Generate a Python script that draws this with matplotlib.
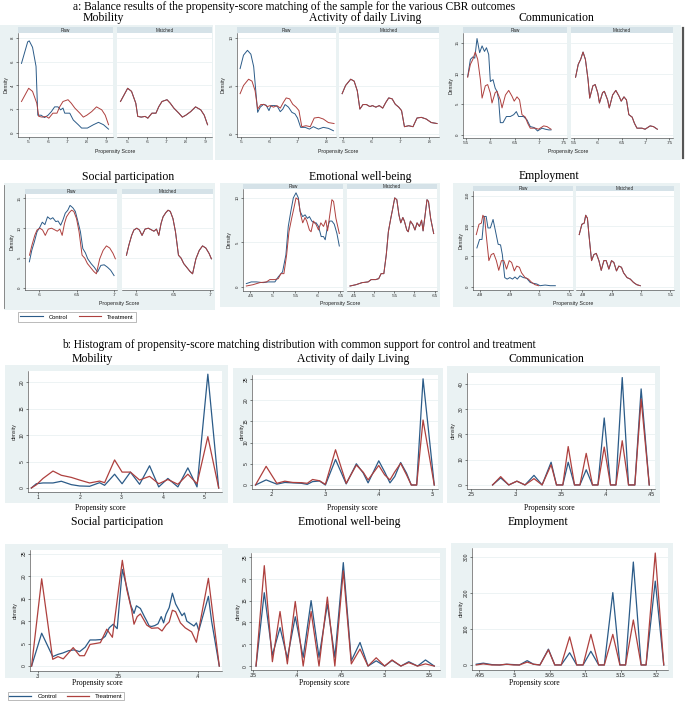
import matplotlib
matplotlib.use("Agg")
import matplotlib.pyplot as plt
from matplotlib.lines import Line2D
from matplotlib.patches import Rectangle
from matplotlib.ticker import FuncFormatter

# ---- a: kernel densities (Raw); Matched shows the treatment curve for both groups
mob_c_x = [0.463, 0.495, 0.503, 0.52, 0.538, 0.547, 0.564, 0.582, 0.6, 0.617, 0.634, 0.651, 0.665, 0.677, 0.686, 0.712, 0.73, 0.756, 0.773, 0.803, 0.834, 0.86, 0.886, 0.912]
mob_c_y = [5.85, 7.66, 7.74, 7.2, 5.6, 1.5, 1.5, 1.3, 1.5, 1.8, 2.2, 2.2, 1.95, 2.1, 1.67, 1.67, 1.1, 0.7, 0.42, 0.42, 0.7, 0.9, 0.7, 0.33]
mob_t_x = [0.463, 0.5, 0.52, 0.542, 0.552, 0.57, 0.59, 0.604, 0.625, 0.646, 0.66, 0.677, 0.703, 0.72, 0.738, 0.764, 0.782, 0.8, 0.825, 0.85, 0.877, 0.895, 0.912]
mob_t_y = [2.65, 3.76, 3.5, 2.5, 1.4, 1.34, 1.4, 1.25, 1.67, 1.67, 2.2, 2.65, 2.8, 2.5, 2.1, 1.67, 1.34, 1.5, 1.8, 2.2, 1.95, 1.5, 0.7]

adl_c_x = [0.496, 0.508, 0.522, 0.534, 0.544, 0.558, 0.567, 0.579, 0.588, 0.598, 0.605, 0.62, 0.628, 0.638, 0.647, 0.655, 0.667, 0.679, 0.69, 0.699, 0.71, 0.726, 0.741, 0.755, 0.773, 0.79, 0.808, 0.826]
adl_c_y = [6.8, 8.2, 8.7, 8.3, 7.0, 2.26, 2.8, 3.1, 3.0, 2.44, 2.96, 2.96, 2.86, 2.33, 2.6, 3.07, 2.8, 2.26, 2.1, 1.67, 0.7, 0.7, 0.52, 0.77, 0.52, 0.7, 0.6, 0.35]
adl_t_x = [0.496, 0.508, 0.526, 0.538, 0.549, 0.558, 0.569, 0.581, 0.593, 0.602, 0.614, 0.626, 0.638, 0.649, 0.659, 0.671, 0.682, 0.694, 0.704, 0.714, 0.729, 0.744, 0.758, 0.773, 0.79, 0.808, 0.828]
adl_t_y = [4.2, 5.05, 5.7, 5.5, 4.5, 2.6, 3.07, 3.07, 2.86, 2.96, 2.8, 2.96, 2.7, 3.3, 3.76, 3.66, 3.1, 2.8, 2.44, 0.77, 0.87, 0.77, 1.67, 1.74, 1.57, 1.2, 1.1]

com_c_x = [0.5534, 0.559, 0.564, 0.568, 0.5726, 0.578, 0.583, 0.588, 0.592, 0.5966, 0.6, 0.6055, 0.61, 0.6137, 0.617, 0.6205, 0.626, 0.633, 0.641, 0.648, 0.6534, 0.658, 0.668, 0.6753, 0.682, 0.69, 0.697, 0.706, 0.713, 0.72, 0.7247]
com_c_y = [9.5, 12.3, 12.7, 12.5, 15.7, 13.4, 14.5, 13.6, 14.2, 13.1, 8.7, 9.0, 7.6, 7.1, 5.7, 2.0, 2.0, 3.0, 3.0, 3.3, 3.8, 3.0, 3.0, 2.45, 1.36, 1.2, 0.65, 1.1, 0.93, 0.82, 0.82]
com_t_x = [0.5534, 0.559, 0.564, 0.569, 0.574, 0.5795, 0.583, 0.5897, 0.5945, 0.6, 0.6034, 0.61, 0.6137, 0.6205, 0.624, 0.631, 0.6377, 0.6445, 0.649, 0.6548, 0.66, 0.665, 0.6719, 0.6767, 0.682, 0.6925, 0.699, 0.7096, 0.7164, 0.7247]
com_t_y = [9.4, 11.5, 12.3, 13.5, 12.3, 9.0, 6.0, 8.0, 8.2, 6.8, 5.2, 6.9, 7.1, 5.7, 4.4, 6.5, 7.25, 6.3, 5.5, 6.2, 5.7, 3.3, 2.9, 1.9, 1.1, 1.1, 0.93, 1.47, 1.36, 0.93]

soc_c_x = [0.5868, 0.59, 0.5934, 0.597, 0.6009, 0.604, 0.6075, 0.611, 0.6149, 0.618, 0.622, 0.625, 0.6285, 0.6316, 0.6346, 0.638, 0.641, 0.6447, 0.648, 0.6513, 0.6548, 0.658, 0.6614, 0.6645, 0.669, 0.6732, 0.6776, 0.682, 0.6864, 0.6908, 0.695, 0.6996]
soc_c_y = [4.4, 6.3, 7.7, 9.4, 10.2, 11.0, 10.6, 11.9, 11.5, 11.75, 11.1, 11.2, 10.5, 11.4, 12.5, 13.0, 13.8, 13.4, 12.8, 11.2, 9.4, 6.6, 5.9, 4.9, 4.1, 3.5, 2.7, 3.8, 3.9, 3.5, 3.0, 2.1]
soc_t_x = [0.587, 0.5903, 0.594, 0.597, 0.6009, 0.6044, 0.608, 0.612, 0.6164, 0.621, 0.624, 0.6274, 0.6305, 0.6336, 0.6363, 0.64, 0.643, 0.646, 0.6496, 0.653, 0.657, 0.6606, 0.6641, 0.668, 0.6725, 0.676, 0.6805, 0.685, 0.6894, 0.6938, 0.6982, 0.7013]
soc_t_y = [5.5, 7.2, 8.8, 9.7, 10.0, 9.7, 8.8, 9.85, 10.0, 9.7, 9.5, 9.85, 8.8, 10.8, 11.9, 12.6, 13.0, 12.8, 11.6, 9.4, 5.5, 5.0, 4.1, 3.5, 2.8, 2.4, 4.9, 6.3, 7.05, 6.7, 5.8, 4.9]

emo_c_x = [0.441, 0.452, 0.4634, 0.4784, 0.4896, 0.5045, 0.512, 0.5216, 0.529, 0.5343, 0.54, 0.5455, 0.5515, 0.5567, 0.5605, 0.5664, 0.5716, 0.5769, 0.5813, 0.5866, 0.5918, 0.5963, 0.6015, 0.6075, 0.6127, 0.6164, 0.6201, 0.6261, 0.6313, 0.6366, 0.6425, 0.6478]
emo_c_y = [0.38, 0.57, 0.57, 0.49, 0.57, 0.57, 1.13, 1.7, 3.6, 6.8, 8.5, 10.0, 10.57, 10.0, 8.5, 7.9, 8.1, 7.7, 7.9, 7.4, 7.2, 7.2, 6.8, 5.66, 5.66, 5.3, 6.4, 7.4, 7.4, 7.05, 6.0, 4.6]
emo_t_x = [0.441, 0.456, 0.4709, 0.4858, 0.4933, 0.5045, 0.512, 0.5179, 0.5246, 0.5306, 0.5358, 0.5418, 0.547, 0.5515, 0.5567, 0.5619, 0.5664, 0.5716, 0.5754, 0.5813, 0.585, 0.5903, 0.5963, 0.6015, 0.6067, 0.6127, 0.6179, 0.6216, 0.6261, 0.6313, 0.635, 0.6403, 0.6478]
emo_t_y = [0.11, 0.26, 0.49, 0.57, 0.83, 0.83, 0.94, 1.5, 1.5, 3.6, 6.2, 7.7, 8.9, 10.0, 9.8, 8.1, 7.2, 7.8, 7.4, 6.4, 6.2, 7.4, 7.0, 6.4, 7.2, 6.8, 7.5, 6.3, 7.9, 9.8, 9.6, 7.7, 6.0]

emp_c_x = [0.4791, 0.48, 0.4808, 0.4815, 0.4822, 0.4828, 0.4836, 0.4845, 0.4853, 0.4862, 0.487, 0.4876, 0.4884, 0.4892, 0.4901, 0.491, 0.4918, 0.4926, 0.4935, 0.4946, 0.4957, 0.4969, 0.498, 0.4991, 0.5002, 0.5019, 0.5036, 0.5053]
emp_c_y = [64, 78, 78, 116, 116, 97, 97, 111, 92, 70, 69, 53, 15, 12.5, 15, 12.5, 16, 12.5, 18, 15, 14, 7, 5.5, 4.4, 1.6, 2.7, 1.6, 1.6]
emp_t_x = [0.4789, 0.4798, 0.4806, 0.4811, 0.4817, 0.4822, 0.4831, 0.4839, 0.4847, 0.4856, 0.4864, 0.4873, 0.4881, 0.489, 0.4899, 0.4907, 0.4916, 0.4924, 0.4933, 0.494, 0.4952, 0.4963, 0.4974, 0.4985, 0.4997]
emp_t_y = [86, 103, 105, 118, 113, 86, 43, 53, 55, 43, 27, 43, 43, 29, 43, 40, 26, 34, 32, 23, 15, 12.5, 7, 3.3, 1.6]

# ---- b: histogram densities
mobb_x = [0.84, 0.96, 1.12, 1.36, 1.56, 1.8, 2.0, 2.24, 2.48, 2.6, 2.84, 3.02, 3.22, 3.44, 3.68, 3.9, 4.12, 4.36, 4.6, 4.82, 5.08, 5.34]
mobb_c = [0, 0.8, 0.95, 0.95, 1.27, 0.63, 0.38, 0.32, 1.0, 0.5, 2.6, 0.8, 3.0, 0.7, 4.2, 0.2, 1.8, 0.2, 3.8, 0.2, 21.5, 0]
mobb_t = [0, 0.6, 1.8, 3.2, 2.4, 2.0, 1.5, 0.95, 1.3, 1.0, 5.3, 3.0, 3.0, 1.5, 2.2, 0.8, 1.6, 0.7, 2.6, 0.8, 9.7, 0]

adlb_x = [0.169, 0.189, 0.209, 0.224, 0.239, 0.255, 0.266, 0.276, 0.289, 0.3, 0.319, 0.339, 0.358, 0.371, 0.38, 0.4, 0.411, 0.421, 0.43, 0.441, 0.452, 0.461, 0.471, 0.483, 0.504]
adlb_c = [0, 1.2, 0.2, 0.6, 0.5, 0.4, 0.15, 0.8, 0.95, 0, 6.0, 0.25, 5.0, 2.8, 0.5, 5.7, 3.1, 0.5, 2.0, 5.3, 2.8, 0, 0, 25, 0]
adlb_t = [0, 4.4, 0.4, 0.9, 0.6, 0.55, 0.4, 1.3, 1.0, 0.15, 8.3, 0.4, 4.7, 3.0, 1.2, 4.6, 2.4, 1.2, 3.1, 5.1, 2.4, 0, 0, 15.3, 0]

comb_x = [0.274, 0.283, 0.292, 0.301, 0.310, 0.320, 0.329, 0.339, 0.345, 0.352, 0.358, 0.365, 0.371, 0.378, 0.385, 0.391, 0.398, 0.405, 0.411, 0.418, 0.425, 0.432, 0.439, 0.448]
comb_c = [0, 2.8, 0, 1.5, 0, 3.8, 0, 9.0, 0, 0, 9.0, 0, 0, 6.0, 0, 0, 26.5, 0, 0, 42.5, 0, 0, 38, 0]
comb_t = [0, 3.3, 0, 1.5, 0, 2.5, 0, 8.0, 0, 0, 15.2, 0, 0, 12.5, 0, 0, 15, 0, 0, 17.5, 0, 0, 34, 0]

socb_c_x = [0.296, 0.3023, 0.3092, 0.3125, 0.3155, 0.319, 0.3225, 0.326, 0.3295, 0.3325, 0.336, 0.3395, 0.342, 0.3445, 0.347, 0.3495, 0.3527, 0.3555, 0.358, 0.36, 0.3615, 0.364, 0.3665, 0.368, 0.3695, 0.371, 0.373, 0.375, 0.377, 0.3785, 0.38, 0.382, 0.384, 0.386, 0.388, 0.39, 0.3915, 0.393, 0.395, 0.3975, 0.399, 0.4005, 0.4065, 0.4085, 0.4133]
socb_c_y = [0, 7.3, 2.1, 2.6, 2.9, 3.4, 3.6, 3.2, 4.2, 5.8, 5.8, 5.9, 6.6, 8.5, 9.3, 8.3, 21.5, 17.5, 13.5, 11.7, 13.4, 12.8, 11.0, 10.0, 8.9, 8.8, 9.0, 9.4, 11.0, 9.6, 11.5, 13.0, 16.2, 13.8, 12.5, 11.2, 11.8, 10.0, 9.5, 8.9, 9.6, 7.9, 15.5, 10.0, 0]
socb_t_x = [0.296, 0.3023, 0.3092, 0.3125, 0.3158, 0.322, 0.326, 0.329, 0.3325, 0.339, 0.343, 0.3465, 0.3527, 0.3555, 0.3585, 0.36, 0.362, 0.364, 0.368, 0.371, 0.375, 0.3775, 0.38, 0.382, 0.384, 0.386, 0.389, 0.392, 0.396, 0.399, 0.4065, 0.4133]
socb_t_y = [0, 19.4, 1.5, 2.1, 1.6, 4.1, 2.3, 2.3, 4.8, 5.2, 8.2, 6.4, 23.5, 17.0, 12.5, 9.3, 11.0, 11.6, 9.1, 8.4, 8.5, 7.8, 9.1, 9.8, 12.4, 12.1, 9.6, 8.5, 7.6, 5.3, 19.5, 0]

emob_x = [0.3534, 0.3628, 0.372, 0.3807, 0.389, 0.398, 0.407, 0.416, 0.425, 0.4345, 0.443, 0.4526, 0.4617, 0.4716, 0.4807, 0.49, 0.4996, 0.508, 0.518, 0.527, 0.537, 0.546, 0.556]
emob_c = [0, 16.8, 2.5, 8.8, 1.8, 11.3, 2.0, 15.0, 2.0, 14.2, 2.0, 23.7, 1.2, 5.4, 0, 1.2, 0, 1.3, 0, 1.0, 0, 1.4, 0]
emob_t = [0, 23.0, 1.0, 12.5, 0.5, 14.8, 0, 12.5, 0, 15.8, 0, 21.8, 0.5, 3.9, 0, 1.9, 0, 1.4, 0, 0.8, 0, 0.5, 0]

empb_x = [0.4946, 0.4956, 0.4968, 0.4979, 0.4989, 0.4999, 0.5007, 0.5018, 0.5027, 0.5036, 0.5048, 0.5057, 0.5066, 0.5078, 0.5088, 0.5097, 0.5108, 0.5119, 0.5127, 0.5139, 0.5149, 0.5157, 0.5168, 0.5179, 0.5186, 0.5199, 0.5211]
empb_c = [2, 5, 1, 0, 2, 1, 0, 12, 2, 0, 44, 0, 0, 34, 0, 0, 38, 0, 0, 201, 0, 0, 286, 0, 0, 233, 0]
empb_t = [0, 3, 0, 0, 2, 0, 0, 8, 2, 0, 42, 0, 0, 78, 0, 0, 85, 0, 0, 85, 0, 0, 125, 0, 0, 311, 0]

outcomes = ["Mobility", "Activity of daily Living", "Communication",
            "Social participation", "Emotional well-being", "Employment"]
groups = ["Control", "Treatment"]

W, H = 685, 701
BG = "#EAF2F3"
HEAD = "#D5E2E8"
GRID = "#E6EEF0"
C_BLUE = "#2B5B88"
C_RED = "#AE403E"
SERIF = ["Liberation Serif", "DejaVu Serif"]
SANS = ["Liberation Sans", "DejaVu Sans"]

plt.rcParams["font.family"] = SANS

fig = plt.figure(figsize=(W / 100, H / 100), dpi=100)


def rect(x0, y0, x1, y1):
    return [x0 / W, 1 - y1 / H, (x1 - x0) / W, (y1 - y0) / H]


def bg(x0, y0, x1, y1):
    fig.add_artist(Rectangle((x0 / W, 1 - y1 / H), (x1 - x0) / W, (y1 - y0) / H,
                             transform=fig.transFigure, facecolor=BG,
                             edgecolor="none", zorder=-5))


def ftext(x, y, s, **kw):
    fig.text(x / W, 1 - y / H, s, ha="center", va="center", **kw)


def stata_fmt(v, pos=None):
    s = "%g" % round(v, 4)
    if s.startswith("0."):
        s = s[1:]
    return s


def style_axis(ax, xlim, ylim, xticks, yticks, show_y, size):
    ax.set_xlim(xlim)
    ax.set_ylim(ylim)
    ax.set_xticks(xticks)
    ax.set_yticks(yticks)
    ax.xaxis.set_major_formatter(FuncFormatter(stata_fmt))
    ax.yaxis.set_major_formatter(FuncFormatter(stata_fmt))
    ax.yaxis.grid(True, color=GRID, lw=0.5)
    ax.set_axisbelow(True)
    for s in ["top", "right"]:
        ax.spines[s].set_visible(False)
    for s in ["left", "bottom"]:
        ax.spines[s].set_linewidth(0.4)
        ax.spines[s].set_color("#333333")
    ax.tick_params(length=1.5, width=0.4, pad=1, labelsize=size, colors="#222222")
    if show_y:
        for lab in ax.get_yticklabels():
            lab.set_rotation(90)
            lab.set_va("center")
    else:
        ax.spines["left"].set_visible(False)
        ax.tick_params(axis="y", left=False, labelleft=False)


# ---------------- section a ----------------
ftext(294, 7, "a: Balance results of the propensity-score matching of the sample for the various CBR outcomes",
      family=SERIF, fontsize=8.3)

a_layout = [
    # bg, raw x, matched x, header y, plot y, xlim, ylim, xticks, yticks, ylabel x, xlabel y, title pos
    ((0, 25, 213, 160), (18, 113), (117, 212), (27, 33), (33, 137), (0.445, 0.935), (-0.33, 8.4),
     [0.5, 0.6, 0.7, 0.8, 0.9], [0, 2, 4, 6, 8], 6, 151, (103, 18)),
    ((215, 25, 440, 160), (237, 336), (339, 439), (27, 33), (33, 137), (0.485, 0.835), (-0.3, 10.5),
     [0.5, 0.6, 0.7, 0.8], [0, 5, 10], 223, 151, (365, 18)),
    ((439, 25, 681, 160), (463, 567), (571, 673), (27, 33), (33, 138), (0.5438, 0.7575), (-0.5, 16.6),
     [0.55, 0.6, 0.65, 0.7, 0.75], [0, 5, 10, 15], 451, 152, (556, 18)),
    ((4, 183, 215, 310), (25, 117), (122, 213), (189, 194), (194, 290), (0.581, 0.7035), (-0.3, 15.7),
     [0.6, 0.65, 0.7], [0, 5, 10, 15], 12, 303, (128, 177)),
    ((220, 183, 440, 307), (243, 343), (347, 437), (184, 189), (189, 291), (0.4336, 0.656), (-0.45, 11),
     [0.45, 0.5, 0.55, 0.6, 0.65], [0, 5, 10], 229, 303, (360, 177)),
    ((453, 183, 680, 307), (473, 573), (576, 674), (186, 191), (191, 290), (0.4778, 0.5112), (-5.5, 158),
     [0.48, 0.49, 0.5, 0.51], [0, 50, 100, 150], 461, 303, (549, 176)),
]
a_data = [
    (mob_c_x, mob_c_y, mob_t_x, mob_t_y),
    (adl_c_x, adl_c_y, adl_t_x, adl_t_y),
    (com_c_x, com_c_y, com_t_x, com_t_y),
    (soc_c_x, soc_c_y, soc_t_x, soc_t_y),
    (emo_c_x, emo_c_y, emo_t_x, emo_t_y),
    (emp_c_x, emp_c_y, emp_t_x, emp_t_y),
]

for name, lay, dat in zip(outcomes, a_layout, a_data):
    b, rx, mx, hy, py, xlim, ylim, xt, yt, ylx, xly, tpos = lay
    cx, cy, tx, ty = dat
    bg(*b)
    ftext(tpos[0], tpos[1], name, family=SERIF, fontsize=8.5)
    for i, (px, label) in enumerate([(rx, "Raw"), (mx, "Matched")]):
        hax = fig.add_axes(rect(px[0], hy[0], px[1], hy[1]))
        hax.set_facecolor(HEAD)
        hax.set_xticks([])
        hax.set_yticks([])
        for s in hax.spines.values():
            s.set_visible(False)
        hax.text(0.5, 0.5, label, ha="center", va="center", fontsize=3.3,
                 transform=hax.transAxes, color="#222222")
        ax = fig.add_axes(rect(px[0], py[0], px[1], py[1]))
        ax.set_facecolor("white")
        if i == 0:
            ax.plot(cx, cy, color=C_BLUE, lw=0.7)
            ax.plot(tx, ty, color=C_RED, lw=0.7)
        else:
            ax.plot(tx, ty, color=C_BLUE, lw=0.7)
            ax.plot(tx, ty, color=C_RED, lw=0.7)
        style_axis(ax, xlim, ylim, xt, yt, i == 0, 3.2)
    ftext(ylx, (py[0] + py[1]) / 2, "Density", fontsize=3.6, rotation=90, color="#222222")
    ftext((rx[0] + mx[1]) / 2, xly, "Propensity Score", fontsize=3.8, color="#222222")

fig.add_artist(Line2D([682.5 / W, 682.5 / W], [1 - 28 / H, 1 - 158 / H],
                      transform=fig.transFigure, color="#555555", lw=1.6))
fig.add_artist(Line2D([4 / W, 4 / W], [1 - 185 / H, 1 - 308 / H],
                      transform=fig.transFigure, color="#777777", lw=0.6))

handles = [Line2D([], [], color=C_BLUE, lw=0.8), Line2D([], [], color=C_RED, lw=0.8)]
leg = fig.legend(handles, groups, ncol=2, loc="center", bbox_to_anchor=(77 / W, 1 - 317 / H),
                 fontsize=4.2, frameon=True, fancybox=False, edgecolor="#888888",
                 handlelength=3.8, columnspacing=2.0, borderpad=0.35, handletextpad=1.0)
leg.get_frame().set_linewidth(0.5)

# ---------------- section b ----------------
ftext(299, 345, "b: Histogram of propensity-score matching distribution with common support for control and treatment",
      family=SERIF, fontsize=8.3)

b_layout = [
    # bg, plot box, xlim, ylim, xticks, yticks, ylabel x, xlabel pos, title pos
    ((5, 365, 228, 503), (28, 371, 222, 492), (0.76, 5.42), (-0.76, 22.1),
     [1, 2, 3, 4, 5], [0, 5, 10, 15, 20], 14, (100, 508), (92, 359)),
    ((233, 368, 443, 503), (252, 375, 438, 489), (0.1625, 0.511), (-0.94, 25.9),
     [0.2, 0.3, 0.4, 0.5], [0, 5, 10, 15, 20, 25], 242, (352, 508), (353, 359)),
    ((447, 366, 660, 503), (467, 373, 655, 489), (0.2456, 0.4544), (-1.6, 44.3),
     [0.25, 0.3, 0.35, 0.4, 0.45], [0, 10, 20, 30, 40], 453, (549, 508), (546, 359)),
    ((5, 544, 228, 678), (30, 550, 222, 671), (0.295, 0.415), (-1.1, 25.8),
     [0.3, 0.35, 0.4], [0, 5, 10, 15, 20, 25], 15, (97, 683), (117, 522)),
    ((228, 548, 446, 678), (251, 553, 440, 670), (0.3477, 0.5625), (-0.9, 25.9),
     [0.35, 0.4, 0.45, 0.5, 0.55], [0, 5, 10, 15, 20, 25], 238, (324, 683), (349, 522)),
    ((451, 543, 673, 678), (472, 548, 668, 670), (0.494, 0.5217), (-14, 325),
     [0.495, 0.5, 0.505, 0.51, 0.515, 0.52], [0, 100, 200, 300], 461, (534, 683), (538, 522)),
]
b_data = [
    (mobb_x, mobb_c, mobb_x, mobb_t),
    (adlb_x, adlb_c, adlb_x, adlb_t),
    (comb_x, comb_c, comb_x, comb_t),
    (socb_c_x, socb_c_y, socb_t_x, socb_t_y),
    (emob_x, emob_c, emob_x, emob_t),
    (empb_x, empb_c, empb_x, empb_t),
]

for name, lay, dat in zip(outcomes, b_layout, b_data):
    b, pb, xlim, ylim, xt, yt, ylx, xlp, tpos = lay
    cx, cy, tx, ty = dat
    bg(*b)
    ftext(tpos[0], tpos[1], name, family=SERIF, fontsize=8.5)
    ax = fig.add_axes(rect(*pb))
    ax.set_facecolor("white")
    ax.plot(cx, cy, color=C_BLUE, lw=0.9)
    ax.plot(tx, ty, color=C_RED, lw=0.9)
    style_axis(ax, xlim, ylim, xt, yt, True, 3.6)
    ftext(ylx, (pb[1] + pb[3]) / 2, "density", fontsize=3.8, rotation=90, color="#222222")
    ftext(xlp[0], xlp[1], "Propensity score", family=SERIF, fontsize=5.5)

handles_b = [Line2D([], [], color=C_BLUE, lw=0.9), Line2D([], [], color=C_RED, lw=0.9)]
leg_b = fig.legend(handles_b, groups, ncol=2, loc="center", bbox_to_anchor=(66 / W, 1 - 696 / H),
                   fontsize=4.4, frameon=True, fancybox=False, edgecolor="#888888",
                   handlelength=3.6, columnspacing=1.6, borderpad=0.3, handletextpad=1.0)
leg_b.get_frame().set_linewidth(0.5)

fig.savefig("out.png", dpi=100, facecolor="white")
